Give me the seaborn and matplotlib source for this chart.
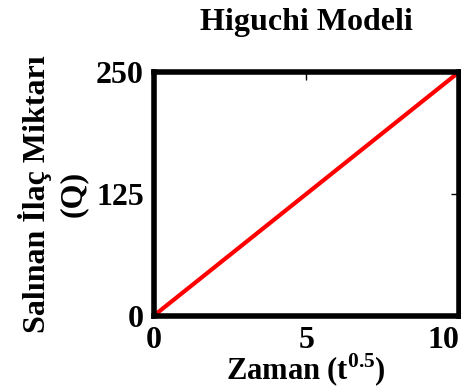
import numpy as np
import pandas as pd
import matplotlib
matplotlib.use("Agg")
import matplotlib.pyplot as plt
import seaborn as sns

# dados da curva (Higuchi: Q = k * t^0.5)
zaman = [0, 10]
miktar = [0, 250]
x_ticks = [0, 5, 10]
y_ticks = [0, 125, 250]

df = pd.DataFrame({"t": zaman, "Q": miktar})

sns.set_theme(style="white")
plt.rcParams['font.family'] = ['Liberation Serif', 'DejaVu Serif']
plt.rcParams['font.weight'] = 'bold'
plt.rcParams['text.color'] = 'black'
plt.rcParams['axes.labelcolor'] = 'black'
plt.rcParams['mathtext.fontset'] = 'custom'
plt.rcParams['mathtext.rm'] = 'Liberation Serif:bold'
plt.rcParams['mathtext.bf'] = 'Liberation Serif:bold'

fig = plt.figure(figsize=(4.61, 3.91), dpi=100)
ax = fig.add_axes([0.333, 0.192, 0.663, 0.624])

sns.lineplot(data=df, x="t", y="Q", color="red", linewidth=3, ax=ax)

ax.set_xlim(0, 10)
ax.set_ylim(0, 250)
ax.set_xticks(x_ticks)
ax.set_yticks(y_ticks)
ax.tick_params(direction="in", length=6, width=1, top=True, right=True,
               labelsize=23, pad=7, colors="black")
for lab in ax.get_xticklabels() + ax.get_yticklabels():
    lab.set_fontweight("bold")
ax.get_xticklabels()[-1].set_horizontalalignment("right")
for s in ax.spines.values():
    s.set_linewidth(4)
    s.set_color("black")

ax.set_title("Higuchi Modeli", fontsize=23, fontweight="bold", pad=30, color="black")
ax.set_xlabel(r"Zaman (t$^{\mathbf{0.5}}$)", fontsize=22, fontweight="bold", labelpad=-2)
ax.set_ylabel("Salınan İlaç Miktarı\n(Q)", fontsize=23, fontweight="bold", labelpad=6,
              linespacing=1.3)

plt.savefig("out.png", dpi=100)
